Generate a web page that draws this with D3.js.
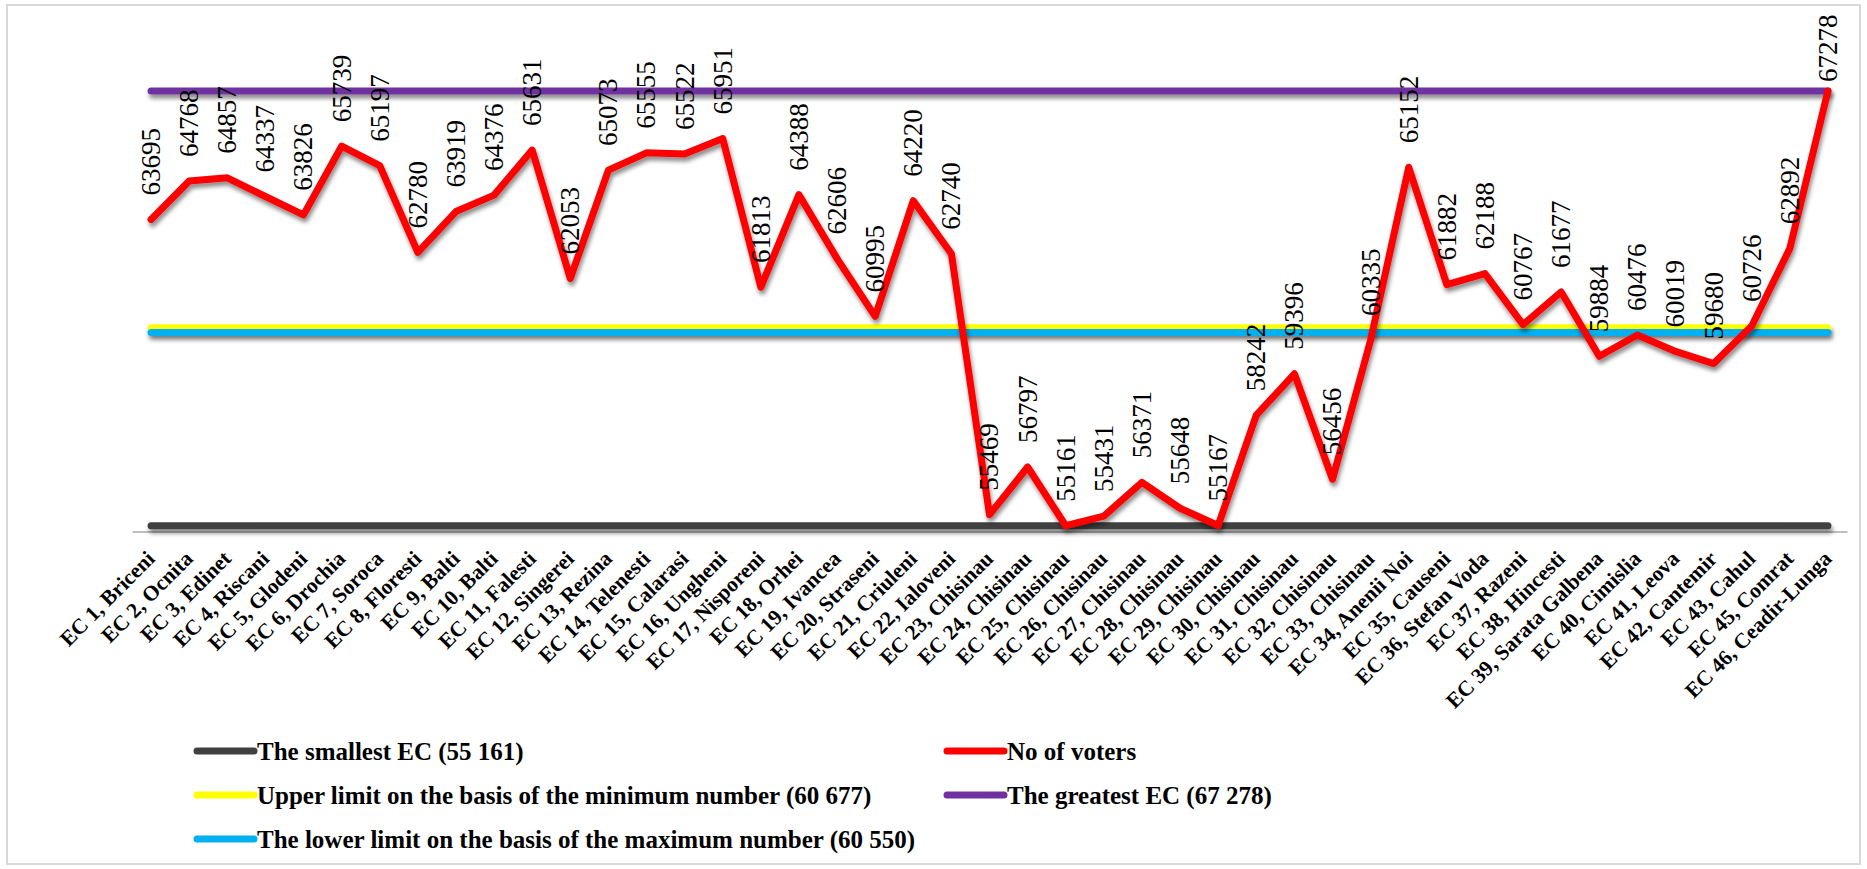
<html>
	<head>
		<meta charset="UTF-8">
		<title>Number of voters per electoral constituency</title>
		<script src="https://cdnjs.cloudflare.com/ajax/libs/d3/7.8.5/d3.min.js"></script>
		<style>
			body { margin: 0; background: #fff; }
		</style>
	</head>
	<body>
		<div id="chart"></div>
		<script>
			// chart data
			var categories = ["EC 1, Briceni", "EC 2, Ocnita", "EC 3, Edinet", "EC 4, Riscani", "EC 5, Glodeni", "EC 6, Drochia",
				"EC 7, Soroca", "EC 8, Floresti", "EC 9, Balti", "EC 10, Balti", "EC 11, Falesti", "EC 12, Singerei",
				"EC 13, Rezina", "EC 14, Telenesti", "EC 15, Calarasi", "EC 16, Ungheni", "EC 17, Nisporeni", "EC 18, Orhei",
				"EC 19, Ivancea", "EC 20, Straseni", "EC 21, Criuleni", "EC 22, Ialoveni", "EC 23, Chisinau", "EC 24, Chisinau",
				"EC 25, Chisinau", "EC 26, Chisinau", "EC 27, Chisinau", "EC 28, Chisinau", "EC 29, Chisinau", "EC 30, Chisinau",
				"EC 31, Chisinau", "EC 32, Chisinau", "EC 33, Chisinau", "EC 34, Anenii Noi", "EC 35, Causeni", "EC 36, Stefan Voda",
				"EC 37, Razeni", "EC 38, Hincesti", "EC 39, Sarata Galbena", "EC 40, Cimislia", "EC 41, Leova", "EC 42, Cantemir",
				"EC 43, Cahul", "EC 45, Comrat", "EC 46, Ceadir-Lunga"];
			var voters = [63695, 64768, 64857, 64337, 63826, 65739, 65197, 62780, 63919, 64376, 65631, 62053,
				65073, 65555, 65522, 65951, 61813, 64388, 62606, 60995, 64220, 62740, 55469, 56797,
				55161, 55431, 56371, 55648, 55167, 58242, 59396, 56456, 60335, 65152, 61882, 62188,
				60767, 61677, 59884, 60476, 60019, 59680, 60726, 62892, 67278];
			var smallestEC = 55161;
			var greatestEC = 67278;
			var upperLimit = 60677;
			var lowerLimit = 60550;
			var yDomain = [55000, 68000];
			var legendLabels = ["The smallest EC (55 161)", "No of voters",
				"Upper limit on the basis of the minimum number (60 677)", "The greatest EC (67 278)",
				"The lower limit on the basis of the maximum number (60 550)"];

			var W = 1867, H = 869;
			var svg = d3.select("#chart").append("svg").attr("width", W).attr("height", H);

			// drop shadow; user space region so flat lines keep their shadow
			var defs = svg.append("defs");
			var f = defs.append("filter").attr("id", "shadow").attr("filterUnits", "userSpaceOnUse")
				.attr("x", 0).attr("y", 0).attr("width", W).attr("height", H);
			f.append("feDropShadow").attr("dx", 1.5).attr("dy", 4).attr("stdDeviation", 2)
				.attr("flood-color", "#000").attr("flood-opacity", 0.45);

			// outer frame
			svg.append("rect").attr("x", 7).attr("y", 5).attr("width", 1853).attr("height", 859)
				.style("fill", "none").style("stroke", "#d9d9d9").style("stroke-width", 2);

			var x = d3.scalePoint().domain(categories).range([132, 1847]).padding(0.5);
			var y = d3.scaleLinear().domain(yDomain).range([531.5, 65.1]);

			// category axis
			var xAxis = svg.append("g").attr("transform", "translate(0," + y(yDomain[0]) + ")")
				.call(d3.axisBottom(x).tickSize(0).tickFormat(""));
			xAxis.select(".domain").style("stroke", "#bfbfbf").style("stroke-width", 2);

			svg.append("g").selectAll("text").data(categories).enter().append("text")
				.attr("transform", function(d){ return "translate(" + (x(d) + 5) + ",560) rotate(-45)"; })
				.attr("text-anchor", "end")
				.style("font-family", "'Liberation Serif', serif").style("font-weight", "bold").style("font-size", "21.5px")
				.text(function(d){ return d; });

			var line = d3.line().x(function(d){ return x(d.c); }).y(function(d){ return y(d.v); });
			function flat(v){ return categories.map(function(c){ return {c: c, v: v}; }); }

			var series = [
				{values: flat(smallestEC), color: "#404040"},
				{values: flat(upperLimit), color: "#ffff00"},
				{values: flat(lowerLimit), color: "#00b0f0"},
				{values: flat(greatestEC), color: "#7030a0"},
				{values: categories.map(function(c, i){ return {c: c, v: voters[i]}; }), color: "#ff0000"}
			];
			svg.append("g").selectAll("path").data(series).enter().append("path")
				.attr("d", function(d){ return line(d.values); })
				.style("fill", "none").style("stroke", function(d){ return d.color; })
				.style("stroke-width", 7).style("stroke-linecap", "round").style("stroke-linejoin", "round")
				.attr("filter", "url(#shadow)");

			// data labels of the voters series
			svg.append("g").selectAll("text").data(voters).enter().append("text")
				.attr("transform", function(d, i){
					var ly = Math.max(y(d) - 24, 82);
					return "translate(" + x(categories[i]) + "," + ly + ") rotate(-90)";
				})
				.attr("dy", "0.33em")
				.style("font-family", "'Liberation Serif', serif").style("font-size", "27px").style("fill", "#000")
				.text(function(d){ return d; });

			// legend
			var legendColors = ["#404040", "#ff0000", "#ffff00", "#7030a0", "#00b0f0"];
			var leg = svg.append("g").selectAll("g").data(legendLabels).enter().append("g")
				.attr("transform", function(d, i){ return "translate(" + (197 + (i % 2) * 750) + "," + (751 + Math.floor(i / 2) * 44) + ")"; });
			leg.append("line").attr("x1", 0).attr("x2", 57).attr("y1", 0).attr("y2", 0)
				.style("stroke", function(d, i){ return legendColors[i]; }).style("stroke-width", 7).style("stroke-linecap", "round");
			leg.append("text").attr("x", 60).attr("dy", "0.35em")
				.style("font-family", "'Liberation Serif', serif").style("font-weight", "bold").style("font-size", "25px")
				.text(function(d){ return d; });
		</script>
	</body>
</html>
